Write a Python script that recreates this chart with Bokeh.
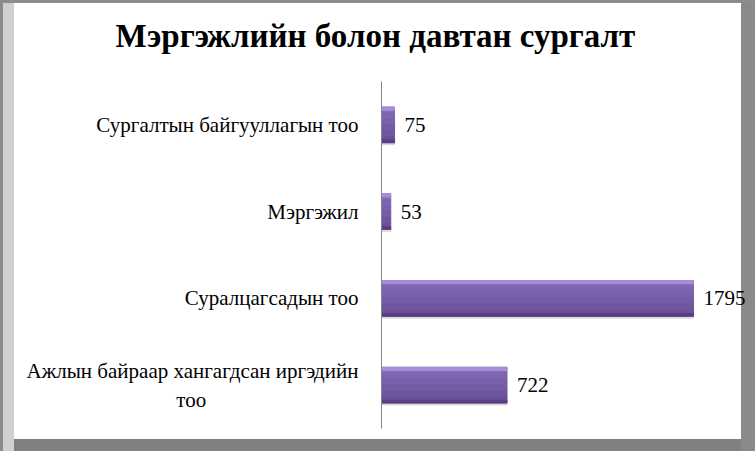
from bokeh.plotting import figure
from bokeh.models import ColumnDataSource, LabelSet, FactorRange, Title
from bokeh.transform import dodge
from bokeh.embed import file_html
from bokeh.resources import INLINE

# categories bottom -> top, as in the chart
categories = ["Ажлын байраар хангагдсан иргэдийн\n" + "тоо" + "\u00a0" * 29,
              "Суралцагсадын тоо", "Мэргэжил", "Сургалтын байгууллагын тоо"]
values = [722, 1795, 53, 75]
labels = [str(v) for v in values]

source = ColumnDataSource(data=dict(cat=categories, val=values, lbl=labels))

# bevelled grey frame painted behind a transparent canvas
frame_css = {
    "background-color": "white",
    "box-shadow": ("inset 3px 3px 0 0 #8c8c8c, inset 14px 0 0 0 #d0d0d0, "
                   "inset -14px 0 0 0 #8a8a8a, inset 0 -12px 0 0 #808080"),
}

p = figure(width=755, height=451, y_range=FactorRange(*categories), x_range=(0, 2152),
           title=None, x_axis_location=None,
           output_backend="svg", toolbar_location=None, tools="",
           min_border_left=381, min_border_right=0, min_border_top=81, min_border_bottom=23,
           styles=frame_css)
p.border_fill_alpha = 0
p.background_fill_alpha = 0

H = 0.41
# soft shadow under the bars
p.hbar(y=dodge("cat", -0.025, range=p.y_range), right="val", height=H, left=0,
       source=source, color="#c4c4c4", alpha=0.5)
# body: light at the top, darker towards the bottom
shades = ["#846ab7", "#7f64b1", "#7a5fab", "#755aa5", "#70559f", "#6b5099"]
step = H / len(shades)
for i, c in enumerate(shades):
    off = H / 2 - step * (i + 0.5)
    p.hbar(y=dodge("cat", off, range=p.y_range), right="val", height=step + 0.002, left=0,
           source=source, color=c)
p.hbar(y=dodge("cat", H / 2 - 0.018, range=p.y_range), right="val", height=0.036, left=0,
       source=source, color="#a68fd6")
p.hbar(y=dodge("cat", -H / 2 + 0.015, range=p.y_range), right="val", height=0.03, left=0,
       source=source, color="#573f80")

p.add_layout(LabelSet(x="val", y="cat", text="lbl", source=source, x_offset=10,
                      text_baseline="middle", text_font="Liberation Serif",
                      text_font_size="21px", text_color="black"))

# spacer between frame and title, then the title itself
p.add_layout(Title(text="\u00a0", text_font_size="1px", standoff=25), "above")
p.add_layout(Title(text="Мэргэжлийн болон давтан сургалт", text_font="Liberation Serif",
                   text_font_size="33px", text_font_style="bold", text_color="black",
                   align="left", offset=-266, standoff=0), "above")

p.yaxis.major_label_text_font = "Liberation Serif"
p.yaxis.major_label_text_font_size = "21px"
p.yaxis.major_label_text_color = "black"
p.yaxis.major_tick_line_color = None
p.yaxis.major_tick_out = 0
p.yaxis.minor_tick_line_color = None
p.yaxis.major_label_standoff = 23
p.yaxis.axis_line_color = "#868686"

p.xgrid.grid_line_color = None
p.ygrid.grid_line_color = None
p.outline_line_color = None

open("out.html", "w").write(file_html(p, INLINE))
